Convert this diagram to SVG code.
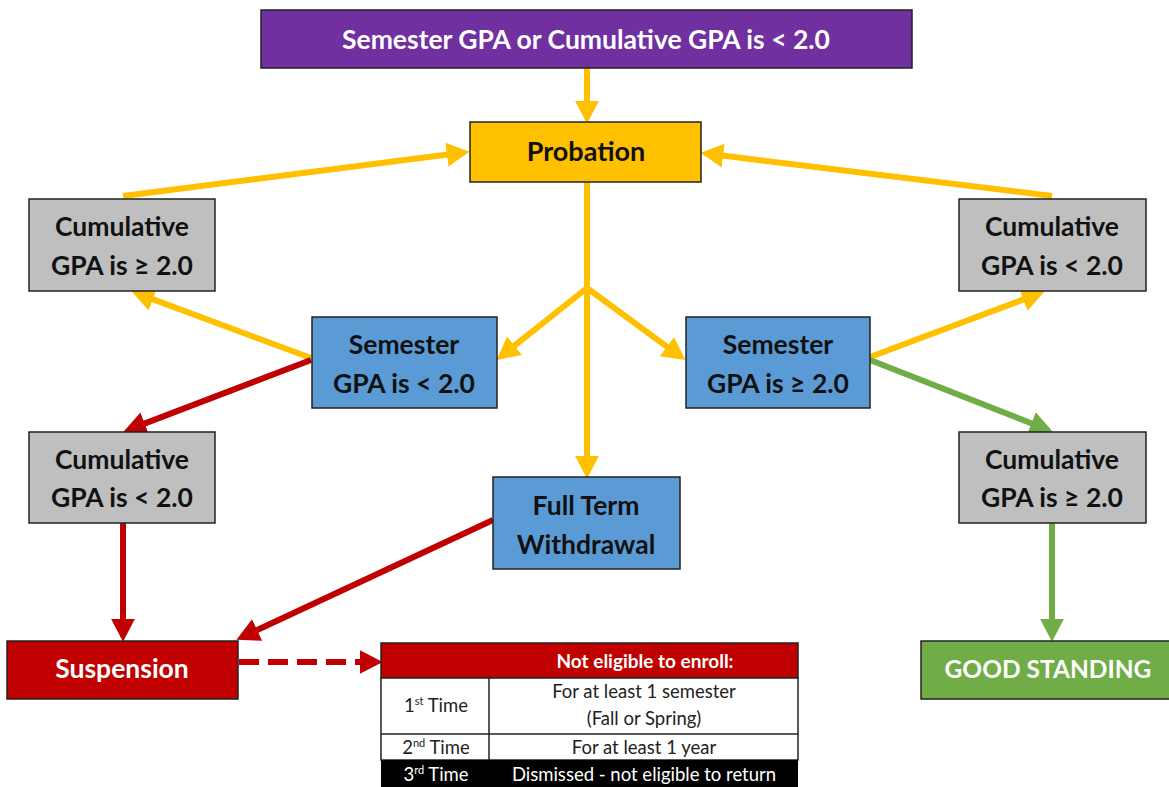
<svg xmlns="http://www.w3.org/2000/svg" width="1169" height="787" viewBox="0 0 1169 787">
<style>
.box{stroke:#222;stroke-width:1.5}
.t{font-family:Lato,"Noto Sans",sans-serif;font-weight:bold;text-anchor:middle}
.dk{fill:#111;font-size:26.5px}
.wh{fill:#fff}
.tb{font-family:Lato,"Noto Sans",sans-serif;font-size:18.5px;text-anchor:middle;fill:#222}
.y{stroke:#FFC000;stroke-width:6;fill:none}
.r{stroke:#C00000;stroke-width:6;fill:none}
.g{stroke:#70AD47;stroke-width:6;fill:none}
</style>
<defs>
<marker id="ay" markerUnits="userSpaceOnUse" markerWidth="24" markerHeight="26" viewBox="0 -12 22 24" refX="1" refY="0" orient="auto"><path d="M0,-11 L21,0 L0,11 z" fill="#FFC000"/></marker>
<marker id="ar" markerUnits="userSpaceOnUse" markerWidth="24" markerHeight="26" viewBox="0 -12 22 24" refX="1" refY="0" orient="auto"><path d="M0,-11 L21,0 L0,11 z" fill="#C00000"/></marker>
<marker id="ag" markerUnits="userSpaceOnUse" markerWidth="24" markerHeight="26" viewBox="0 -12 22 24" refX="1" refY="0" orient="auto"><path d="M0,-11 L21,0 L0,11 z" fill="#70AD47"/></marker>
</defs>
<rect width="1169" height="787" fill="#fff"/>

<g id="connectors">
<line class="y" x1="587" y1="68" x2="587" y2="102" marker-end="url(#ay)"/>
<line class="y" x1="123" y1="196" x2="448" y2="154.5" marker-end="url(#ay)"/>
<line class="y" x1="1052" y1="196" x2="722" y2="155.5" marker-end="url(#ay)"/>
<line class="y" x1="587" y1="182" x2="587" y2="457" marker-end="url(#ay)"/>
<line class="y" x1="587" y1="288" x2="513.6" y2="346.4" marker-end="url(#ay)"/>
<line class="y" x1="587" y1="288" x2="667.8" y2="347.3" marker-end="url(#ay)"/>
<line class="y" x1="311" y1="358" x2="151.8" y2="298.9" marker-end="url(#ay)"/>
<line class="y" x1="870" y1="357" x2="1024.3" y2="299.1" marker-end="url(#ay)"/>
<line class="r" x1="311" y1="360" x2="143.7" y2="423.9" marker-end="url(#ar)"/>
<line class="r" x1="123" y1="523" x2="123" y2="620" marker-end="url(#ar)"/>
<line class="r" x1="493" y1="520" x2="256.1" y2="630.5" marker-end="url(#ar)"/>
<line class="r" x1="239" y1="662" x2="361" y2="662" stroke-dasharray="20,9" marker-end="url(#ar)"/>
<line class="g" x1="870" y1="360" x2="1032.4" y2="423.7" marker-end="url(#ag)"/>
<line class="g" x1="1052" y1="523" x2="1052" y2="620" marker-end="url(#ag)"/>
</g>

<g id="n-top">
<rect class="box" x="261" y="10" width="651" height="58" fill="#7030A0"/>
<text class="t wh" x="586" y="48.5" font-size="26.5">Semester GPA or Cumulative GPA is &lt; 2.0</text>
</g>
<g id="n-probation">
<rect class="box" x="470" y="122" width="231" height="60" fill="#FFC000"/>
<text class="t dk" x="586" y="161" style="font-size:27px">Probation</text>
</g>
<g id="n-cum-ge-left">
<rect class="box" x="29" y="199" width="186" height="92" fill="#BFBFBF"/>
<text class="t dk" x="122" y="236">Cumulative</text>
<text class="t dk" x="122" y="275">GPA is ≥ 2.0</text>
</g>
<g id="n-cum-lt-right">
<rect class="box" x="959" y="199" width="187" height="92" fill="#BFBFBF"/>
<text class="t dk" x="1052" y="236">Cumulative</text>
<text class="t dk" x="1052" y="275">GPA is &lt; 2.0</text>
</g>
<g id="n-sem-lt">
<rect class="box" x="312" y="317" width="185" height="91" fill="#5B9BD5"/>
<text class="t dk" x="404" y="354">Semester</text>
<text class="t dk" x="404" y="393">GPA is &lt; 2.0</text>
</g>
<g id="n-sem-ge">
<rect class="box" x="686" y="317" width="184" height="91" fill="#5B9BD5"/>
<text class="t dk" x="778" y="354">Semester</text>
<text class="t dk" x="778" y="393">GPA is ≥ 2.0</text>
</g>
<g id="n-cum-lt-left">
<rect class="box" x="29" y="432" width="186" height="91" fill="#BFBFBF"/>
<text class="t dk" x="122" y="469">Cumulative</text>
<text class="t dk" x="122" y="507">GPA is &lt; 2.0</text>
</g>
<g id="n-cum-ge-right">
<rect class="box" x="959" y="432" width="187" height="91" fill="#BFBFBF"/>
<text class="t dk" x="1052" y="469">Cumulative</text>
<text class="t dk" x="1052" y="507">GPA is ≥ 2.0</text>
</g>
<g id="n-withdrawal">
<rect class="box" x="493" y="477" width="187" height="92" fill="#5B9BD5"/>
<text class="t dk" x="586" y="515">Full Term</text>
<text class="t dk" x="586" y="554">Withdrawal</text>
</g>
<g id="n-suspension">
<rect class="box" x="7" y="641" width="231" height="58" fill="#C00000"/>
<text class="t wh" x="122" y="678" font-size="26.5">Suspension</text>
</g>
<g id="n-good">
<rect class="box" x="921" y="641" width="260" height="58" fill="#70AD47"/>
<text class="t wh" x="1048" y="677.5" font-size="24.5">GOOD STANDING</text>
</g>
<g id="n-table">
<rect x="381" y="643" width="417" height="35" fill="#C00000" stroke="#222" stroke-width="1.5"/>
<rect x="381" y="678" width="417" height="82" fill="#fff" stroke="#222" stroke-width="1.5"/>
<line x1="381" y1="734" x2="798" y2="734" stroke="#222" stroke-width="1.5"/>
<line x1="489" y1="678" x2="489" y2="760" stroke="#222" stroke-width="1.5"/>
<rect x="381" y="760" width="417" height="27" fill="#000"/>
<text class="t wh" x="645" y="668" font-size="19">Not eligible to enroll:</text>
<text class="tb" x="436" y="712">1<tspan font-size="11" dy="-7">st</tspan><tspan dy="7"> Time</tspan></text>
<text class="tb" x="644" y="698">For at least 1 semester</text>
<text class="tb" x="644" y="725">(Fall or Spring)</text>
<text class="tb" x="436" y="754">2<tspan font-size="11" dy="-7">nd</tspan><tspan dy="7"> Time</tspan></text>
<text class="tb" x="644" y="754">For at least 1 year</text>
<text class="tb" x="436" y="781" style="fill:#fff">3<tspan font-size="11" dy="-7">rd</tspan><tspan dy="7"> Time</tspan></text>
<text class="tb" x="644" y="781" style="fill:#fff">Dismissed - not eligible to return</text>
</g>
</svg>
